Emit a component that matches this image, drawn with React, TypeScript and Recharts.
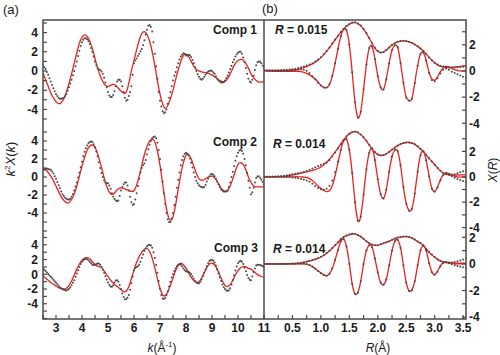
import React from 'react';
import { ComposedChart, Line, XAxis, YAxis } from 'recharts';

const FONT = '"Liberation Sans", Arial, Helvetica, sans-serif';
const RED = '#ee1f1f';
const DOT = '#4a4a4a';
const AX = '#4a4a4a';
const TXT = '#1a1a1a';

// ---------- k-space grids and ticks ----------
// grid of the fitted curves
const K = [2.5,2.6,2.7,2.8,2.9,
  3.0,3.1,3.2,3.3,3.4,3.5,3.6,3.7,3.8,3.9,
  4.0,4.1,4.2,4.3,4.4,4.5,4.6,4.7,4.8,4.9,
  5.0,5.1,5.2,5.3,5.4,5.5,5.6,5.7,5.8,5.9,
  6.0,6.1,6.2,6.3,6.4,6.5,6.6,6.7,6.8,6.9,
  7.0,7.1,7.2,7.3,7.4,7.5,7.6,7.7,7.8,7.9,
  8.0,8.1,8.2,8.3,8.4,8.5,8.6,8.7,8.8,8.9,
  9.0,9.1,9.2,9.3,9.4,9.5,9.6,9.7,9.8,9.9,
  10.0,10.1,10.2,10.3,10.4,10.5,10.6,10.7,10.8,10.9,
  11.0];
// grid of the measured points
const KD = [2.5,2.55,2.6,2.65,2.7,2.75,2.8,2.85,2.9,2.95,
  3.0,3.05,3.1,3.15,3.2,3.25,3.3,3.35,3.4,3.45,3.5,3.55,3.6,3.65,3.7,3.75,3.8,3.85,3.9,3.95,
  4.0,4.05,4.1,4.15,4.2,4.25,4.3,4.35,4.4,4.45,4.5,4.55,4.6,4.65,4.7,4.75,4.8,4.85,4.9,4.95,
  5.0,5.05,5.1,5.15,5.2,5.25,5.3,5.35,5.4,5.45,5.5,5.55,5.6,5.65,5.7,5.75,5.8,5.85,5.9,5.95,
  6.0,6.05,6.1,6.15,6.2,6.25,6.3,6.35,6.4,6.45,6.5,6.55,6.6,6.65,6.7,6.75,6.8,6.85,6.9,6.95,
  7.0,7.05,7.1,7.15,7.2,7.25,7.3,7.35,7.4,7.45,7.5,7.55,7.6,7.65,7.7,7.75,7.8,7.85,7.9,7.95,
  8.0,8.05,8.1,8.15,8.2,8.25,8.3,8.35,8.4,8.45,8.5,8.55,8.6,8.65,8.7,8.75,8.8,8.85,8.9,8.95,
  9.0,9.05,9.1,9.15,9.2,9.25,9.3,9.35,9.4,9.45,9.5,9.55,9.6,9.65,9.7,9.75,9.8,9.85,9.9,9.95,
  10.0,10.05,10.1,10.15,10.2,10.25,10.3,10.35,10.4,10.45,10.5,10.55,10.6,10.65,10.7,10.75,10.8,10.85,10.9,10.95,
  11.0];
const K_TICKS = [2.5,3,3.5,4,4.5,5,5.5,6,6.5,7,7.5,8,8.5,9,9.5,10,10.5,11];

// Comp 1 k-space
const K1_DAT = [0.6,0.4,0.2,-0.1,-0.4,-0.75,-1.1,-1.45,-1.8,-2.1,
  -2.4,-2.6,-2.8,-2.9,-2.9,-2.85,-2.8,-2.6,-2.4,-2.05,-1.7,-1.3,-0.9,-0.45,0.0,0.5,1.0,1.55,2.1,2.6,
  3.0,3.25,3.4,3.4,3.3,3.1,2.8,2.4,2.0,1.5,1.0,0.6,0.3,0.15,0.1,-0.05,-0.3,-0.7,-1.2,-1.7,
  -2.2,-2.55,-2.7,-2.7,-2.5,-2.1,-1.6,-1.1,-0.9,-0.9,-1.1,-1.6,-2.2,-2.8,-3.1,-3.0,-2.6,-2.2,-1.6,-0.4,
  0.8,1.1,1.3,1.55,1.8,2.05,2.3,2.7,3.2,3.8,4.3,4.7,4.8,4.6,4.1,3.0,1.8,0.5,-0.8,-2.2,
  -3.1,-3.7,-4.2,-4.4,-4.3,-4.0,-3.4,-2.8,-2.2,-1.6,-1.0,-0.5,-0.1,0.4,0.8,1.2,1.5,1.7,1.85,1.8,
  1.6,1.6,1.7,1.65,1.45,1.15,0.8,0.4,0.0,-0.35,-0.6,-0.8,-0.9,-0.8,-0.6,-0.4,-0.2,-0.05,0.0,0.05,
  0.0,-0.15,-0.3,-0.55,-0.8,-1.0,-1.1,-1.2,-1.2,-1.15,-1.0,-0.75,-0.5,-0.15,0.2,0.55,0.9,1.2,1.5,1.75,
  1.9,2.0,2.0,1.8,1.4,0.9,0.3,-0.3,-0.8,-1.1,-1.2,-0.9,-0.5,0.1,0.6,0.9,1.0,0.95,0.8,0.55,
  0.3];
const K1_FIT = [-0.2,-0.9,-1.6,-2.3,-2.8,
  -3.2,-3.4,-3.3,-2.9,-2.2,-1.3,-0.3,0.8,1.9,2.9,
  3.5,3.75,3.6,3.1,2.3,1.3,0.3,-0.5,-1.1,-1.5,
  -1.6,-1.5,-1.4,-1.5,-1.8,-2.1,-2.3,-2.2,-1.3,0.0,
  1.1,2.2,3.2,3.9,4.1,3.8,3.1,2.0,0.6,-1.0,
  -2.4,-3.4,-3.9,-3.6,-2.9,-2.0,-0.9,0.1,1.0,1.6,
  1.75,1.5,1.0,0.5,0.15,0.0,-0.1,-0.15,-0.2,-0.3,
  -0.4,-0.6,-0.8,-1.0,-1.1,-1.1,-0.8,-0.3,0.3,0.8,
  1.1,1.2,1.15,0.8,0.3,-0.3,-0.7,-1.0,-1.15,-1.15,
  -1.1];

// Comp 2 k-space
const K2_DAT = [0.8,0.85,0.9,0.92,0.9,0.85,0.8,0.62,0.4,0.1,
  -0.2,-0.55,-0.9,-1.25,-1.6,-1.9,-2.1,-2.3,-2.4,-2.5,-2.5,-2.4,-2.2,-1.9,-1.5,-1.05,-0.6,-0.05,0.5,1.1,
  1.7,2.3,2.8,3.2,3.5,3.75,3.9,3.95,3.9,3.65,3.3,2.85,2.3,1.65,1.0,0.45,0.0,-0.35,-0.6,-0.7,
  -0.7,-0.95,-1.3,-1.8,-2.2,-2.45,-2.6,-2.7,-2.6,-2.1,-1.5,-1.1,-0.8,-0.6,-0.6,-0.95,-1.5,-2.2,-2.8,-3.1,
  -3.0,-2.5,-1.8,-1.0,-0.2,0.5,1.0,1.3,1.5,1.9,2.5,3.1,3.6,4.0,4.3,4.45,4.5,4.3,3.8,3.0,
  2.0,0.8,-0.5,-1.8,-3.0,-4.0,-4.7,-5.0,-5.0,-4.6,-4.0,-3.1,-2.2,-1.2,-0.3,0.5,1.3,1.9,2.3,2.6,
  2.7,2.6,2.4,2.05,1.6,1.05,0.5,0.0,-0.4,-0.7,-0.9,-1.05,-1.1,-1.15,-1.1,-0.85,-0.5,-0.2,0.1,0.3,
  0.35,0.25,0.1,-0.2,-0.5,-0.8,-1.1,-1.35,-1.5,-1.6,-1.6,-1.6,-1.5,-1.1,-0.6,0.0,0.6,1.2,1.8,2.3,
  2.7,2.95,3.0,2.9,2.6,2.0,1.3,0.45,-0.4,-1.2,-1.9,-1.7,-1.2,-0.6,-0.1,0.05,0.1,-0.1,-0.3,-0.55,
  -0.8];
const K2_FIT = [1.0,0.8,0.5,0.1,-0.4,
  -1.0,-1.6,-2.2,-2.6,-2.85,-2.85,-2.5,-1.9,-1.0,0.1,
  1.2,2.2,3.0,3.45,3.55,3.3,2.6,1.6,0.5,-0.6,
  -1.4,-1.85,-1.9,-1.6,-1.3,-1.2,-1.25,-1.4,-1.5,-1.6,
  -1.5,-0.9,0.1,1.3,2.5,3.4,4.0,4.2,3.9,2.9,
  1.3,-0.7,-2.7,-4.2,-4.8,-4.4,-3.1,-1.4,0.3,1.6,
  2.4,2.5,2.0,1.2,0.4,-0.2,-0.35,-0.3,-0.1,0.05,
  0.1,-0.1,-0.5,-1.0,-1.4,-1.6,-1.5,-1.0,-0.2,0.7,
  1.4,1.6,1.4,0.8,0.0,-0.6,-1.0,-1.1,-1.1,-1.1,
  -1.1];

// Comp 3 k-space
const K3_DAT = [0.75,0.6,0.45,0.25,0.05,-0.15,-0.35,-0.55,-0.75,-0.95,
  -1.15,-1.35,-1.55,-1.75,-1.9,-2.0,-2.1,-2.15,-2.2,-2.1,-1.95,-1.75,-1.5,-1.15,-0.8,-0.35,0.1,0.55,1.0,1.4,
  1.7,1.9,2.05,2.1,2.05,1.9,1.7,1.5,1.3,1.25,1.3,1.4,1.45,1.45,1.3,1.0,0.6,0.2,-0.25,-0.7,
  -1.1,-1.45,-1.65,-1.7,-1.5,-1.1,-0.85,-0.8,-1.0,-1.45,-2.0,-2.6,-3.1,-3.4,-3.4,-3.2,-2.8,-2.1,-1.2,-0.3,
  0.5,0.85,1.0,1.1,1.3,1.7,2.2,2.7,3.2,3.55,3.8,3.95,4.0,3.9,3.6,3.0,2.2,1.25,0.2,-0.9,
  -2.0,-2.8,-3.3,-3.35,-3.2,-2.8,-2.3,-1.65,-1.0,-0.45,0.0,0.45,0.8,1.1,1.3,1.35,1.3,1.05,0.8,0.55,
  0.4,0.35,0.35,0.2,0.0,-0.3,-0.6,-0.9,-1.1,-1.2,-1.2,-1.0,-0.7,-0.25,0.2,0.65,1.1,1.5,1.8,1.95,
  1.95,1.85,1.6,1.2,0.7,0.15,-0.4,-0.9,-1.4,-1.75,-2.0,-2.2,-2.25,-2.15,-1.9,-1.4,-0.8,-0.15,0.5,1.05,
  1.5,1.75,1.85,1.7,1.4,0.9,0.4,-0.1,-0.5,-0.75,-0.8,-0.3,0.3,0.8,1.2,1.3,1.3,1.25,1.2,1.1,
  1.0];
const K3_FIT = [-0.2,-0.5,-0.8,-1.1,-1.35,
  -1.6,-1.8,-1.95,-2.0,-1.9,-1.5,-0.9,-0.1,0.7,1.4,
  1.9,2.2,2.25,2.1,1.7,1.3,1.1,1.0,0.7,0.2,
  -0.3,-0.8,-1.2,-1.5,-1.8,-2.1,-2.35,-2.3,-1.7,-0.6,
  0.6,1.6,2.4,3.0,3.4,3.5,3.1,2.2,0.9,-0.6,
  -1.9,-2.8,-2.9,-2.4,-1.5,-0.5,0.5,1.2,1.5,1.3,
  0.8,0.2,-0.4,-0.9,-1.1,-1.0,-0.5,0.2,0.9,1.4,
  1.5,1.3,0.7,-0.1,-0.9,-1.5,-1.65,-1.4,-0.8,-0.1,
  0.5,0.9,1.05,1.0,0.8,0.7,0.4,0.1,-0.15,-0.3,
  -0.4];

// ---------- R-space grid and ticks ----------
const R = [0,0.05,0.1,0.15,0.2,0.25,0.3,0.35,0.4,0.45,
  0.5,0.55,0.6,0.65,0.7,0.75,0.8,0.85,0.9,0.95,
  1.0,1.05,1.1,1.15,1.2,1.25,1.3,1.35,1.4,1.45,
  1.5,1.55,1.6,1.65,1.7,1.75,1.8,1.85,1.9,1.95,
  2.0,2.05,2.1,2.15,2.2,2.25,2.3,2.35,2.4,2.45,
  2.5,2.55,2.6,2.65,2.7,2.75,2.8,2.85,2.9,2.95,
  3.0,3.05,3.1,3.15,3.2,3.25,3.3,3.35,3.4,3.45,3.5,3.55];
const R_TICKS = [0,0.25,0.5,0.75,1,1.25,1.5,1.75,2,2.25,2.5,2.75,3,3.25,3.5];

// Comp 1 R-space
const MAG1_FIT = [0.05,0.05,0.05,0.05,0.04,0.04,0.04,0.04,0.05,0.06,
  0.08,0.10,0.13,0.18,0.25,0.33,0.42,0.53,0.67,0.83,
  1.02,1.25,1.50,1.78,2.08,2.38,2.68,2.96,3.20,3.42,
  3.58,3.68,3.70,3.62,3.45,3.20,2.88,2.50,2.10,1.75,
  1.50,1.40,1.45,1.60,1.80,1.98,2.12,2.22,2.28,2.30,
  2.28,2.22,2.15,2.02,1.88,1.72,1.53,1.30,1.06,0.83,
  0.62,0.47,0.36,0.29,0.26,0.26,0.28,0.30,0.33,0.35,0.38,0.40];
const MAG1_DAT = [0.05,0.04,0.03,0.03,0.04,0.05,0.06,0.08,0.10,0.12,
  0.14,0.17,0.22,0.28,0.35,0.42,0.50,0.60,0.72,0.87,
  1.05,1.27,1.52,1.80,2.10,2.40,2.70,2.98,3.22,3.44,
  3.60,3.70,3.72,3.64,3.47,3.22,2.90,2.52,2.12,1.77,
  1.52,1.42,1.46,1.60,1.80,1.98,2.13,2.23,2.30,2.32,
  2.30,2.24,2.15,2.03,1.89,1.72,1.52,1.28,1.04,0.82,
  0.63,0.50,0.40,0.34,0.30,0.28,0.27,0.27,0.28,0.30,0.33,0.36];
const IM1_FIT = [0.0,0.0,-0.01,-0.01,-0.02,-0.02,-0.02,-0.02,-0.02,-0.02,
  -0.02,-0.02,-0.03,-0.05,-0.1,-0.18,-0.3,-0.45,-0.62,-0.85,
  -1.1,-1.25,-1.28,-1.05,-0.4,0.6,1.7,2.65,3.2,3.1,
  2.0,-0.1,-2.4,-3.55,-3.1,-1.4,0.5,1.75,1.85,0.9,
  -0.4,-1.25,-1.4,-0.6,0.6,1.6,1.95,1.8,0.6,-0.9,
  -2.0,-2.25,-2.1,-0.9,0.4,1.3,1.4,0.8,-0.1,-0.6,
  -0.7,-0.45,-0.05,0.25,0.35,0.3,0.2,0.1,0.05,0.0,0.0,0.0];
const IM1_DAT = [0.02,0.02,0.01,0.0,0.0,0.0,0.01,0.02,0.03,0.04,
  0.05,0.07,0.1,0.12,0.1,0.02,-0.15,-0.4,-0.65,-0.9,
  -1.12,-1.26,-1.27,-1.02,-0.38,0.6,1.7,2.65,3.22,3.12,
  2.02,-0.1,-2.4,-3.57,-3.12,-1.4,0.5,1.76,1.87,0.92,
  -0.4,-1.25,-1.42,-0.62,0.6,1.6,1.96,1.82,0.62,-0.9,
  -2.02,-2.28,-2.12,-0.92,0.4,1.3,1.42,0.8,-0.15,-0.7,
  -0.78,-0.55,-0.2,0.1,0.18,0.1,-0.05,-0.15,-0.25,-0.35,-0.45,-0.55];

// Comp 2 R-space
const MAG2_FIT = [0.0,0.0,0.0,0.0,0.0,0.01,0.02,0.04,0.07,0.1,
  0.14,0.18,0.23,0.28,0.33,0.38,0.44,0.5,0.57,0.65,
  0.78,0.95,1.15,1.38,1.65,1.95,2.25,2.58,2.9,3.18,
  3.38,3.52,3.55,3.48,3.32,3.1,2.82,2.5,2.2,1.93,
  1.75,1.68,1.7,1.8,1.95,2.12,2.3,2.45,2.57,2.65,
  2.7,2.7,2.65,2.55,2.38,2.18,2.0,1.72,1.45,1.2,
  0.95,0.7,0.47,0.3,0.2,0.15,0.13,0.13,0.14,0.15,0.15,0.15];
const MAG2_DAT = [0.0,0.0,0.0,0.01,0.02,0.04,0.06,0.09,0.12,0.15,
  0.19,0.23,0.27,0.32,0.38,0.45,0.55,0.65,0.75,0.85,
  0.95,1.02,1.1,1.3,1.6,1.92,2.24,2.57,2.9,3.18,
  3.4,3.53,3.57,3.5,3.34,3.12,2.84,2.52,2.22,1.95,
  1.77,1.7,1.72,1.82,1.97,2.14,2.31,2.46,2.58,2.66,
  2.71,2.71,2.66,2.56,2.4,2.2,2.0,1.74,1.46,1.2,
  0.95,0.7,0.48,0.3,0.2,0.16,0.16,0.2,0.27,0.35,0.43,0.5];
const IM2_FIT = [0.0,0.0,0.0,0.0,0.0,0.0,0.0,0.0,0.0,0.0,
  0.0,0.0,0.0,-0.01,-0.02,-0.05,-0.15,-0.3,-0.5,-0.72,
  -0.92,-1.08,-1.17,-1.1,-0.7,0.1,1.1,2.1,2.85,2.95,
  2.1,0.3,-2.0,-3.45,-3.1,-1.4,0.6,1.9,2.2,1.3,
  -0.2,-1.35,-1.7,-1.0,0.4,1.6,2.1,2.0,0.9,-0.8,
  -2.1,-2.65,-2.5,-1.3,0.4,1.7,2.0,1.3,0.1,-0.9,
  -1.15,-0.8,-0.25,0.15,0.3,0.25,0.15,0.05,0.0,-0.02,-0.03,-0.05];
const IM2_DAT = [0.0,0.0,0.0,0.0,0.0,0.0,0.0,-0.01,-0.01,-0.02,
  -0.05,-0.08,-0.12,-0.17,-0.22,-0.3,-0.4,-0.55,-0.72,-0.88,
  -0.98,-1.02,-0.95,-0.7,-0.3,0.35,1.2,2.1,2.85,2.97,
  2.12,0.3,-2.0,-3.47,-3.12,-1.4,0.6,1.9,2.22,1.32,
  -0.2,-1.35,-1.72,-1.02,0.4,1.6,2.12,2.02,0.9,-0.8,
  -2.12,-2.67,-2.52,-1.32,0.4,1.7,2.02,1.3,0.05,-0.95,
  -1.18,-0.85,-0.3,0.12,0.3,0.2,0.05,-0.08,-0.18,-0.26,-0.33,-0.4];

// Comp 3 R-space
const MAG3_FIT = [0.0,0.0,0.0,0.0,0.0,0.0,0.01,0.01,0.01,0.02,
  0.02,0.03,0.05,0.08,0.12,0.17,0.22,0.28,0.34,0.42,
  0.52,0.65,0.8,0.98,1.18,1.4,1.62,1.86,2.02,2.12,
  2.2,2.25,2.24,2.17,2.05,1.88,1.7,1.55,1.45,1.4,
  1.4,1.46,1.55,1.62,1.7,1.8,1.9,1.97,2.02,2.05,
  2.05,2.02,1.94,1.82,1.68,1.55,1.38,1.12,0.88,0.68,
  0.5,0.34,0.22,0.14,0.1,0.08,0.07,0.06,0.05,0.05,0.05,0.05];
const MAG3_DAT = [0.0,0.0,0.0,0.0,0.0,0.0,0.01,0.01,0.02,0.02,
  0.03,0.04,0.06,0.09,0.13,0.18,0.23,0.29,0.36,0.44,
  0.54,0.66,0.81,0.99,1.19,1.41,1.63,1.87,2.03,2.13,
  2.21,2.26,2.25,2.18,2.06,1.89,1.71,1.56,1.46,1.41,
  1.41,1.47,1.56,1.63,1.71,1.81,1.91,1.98,2.03,2.06,
  2.06,2.03,1.95,1.83,1.69,1.56,1.39,1.13,0.9,0.7,
  0.52,0.36,0.24,0.16,0.12,0.1,0.1,0.14,0.2,0.26,0.33,0.4];
const IM3_FIT = [0.0,0.0,0.0,0.0,0.0,0.0,0.0,0.0,0.0,0.0,
  0.0,0.0,0.0,0.0,0.0,-0.03,-0.1,-0.2,-0.35,-0.52,
  -0.68,-0.82,-0.88,-0.75,-0.35,0.3,1.05,1.7,1.85,1.3,
  0.0,-1.5,-2.25,-2.15,-1.3,0.0,1.0,1.4,1.25,0.4,
  -0.65,-1.4,-1.55,-1.15,-0.1,1.0,1.7,1.8,1.2,-0.1,
  -1.4,-2.02,-1.95,-1.3,-0.1,1.0,1.38,1.0,0.1,-0.6,
  -0.8,-0.55,-0.15,0.1,0.15,0.1,0.05,0.0,0.0,0.0,0.0,0.0];
const IM3_DAT = [0.0,0.0,0.0,0.0,0.0,0.0,0.0,0.0,0.0,0.01,
  0.01,0.02,0.03,0.04,0.03,0.0,-0.08,-0.2,-0.36,-0.54,
  -0.7,-0.83,-0.88,-0.74,-0.33,0.3,1.05,1.7,1.86,1.31,
  0.0,-1.5,-2.27,-2.17,-1.3,0.0,1.0,1.41,1.26,0.4,
  -0.65,-1.4,-1.57,-1.16,-0.1,1.0,1.71,1.81,1.2,-0.1,
  -1.42,-2.04,-1.97,-1.3,-0.1,1.0,1.39,1.0,0.05,-0.62,
  -0.82,-0.58,-0.2,0.05,0.12,0.05,-0.03,-0.1,-0.15,-0.2,-0.25,-0.3];

// ---------- layout ----------
const PAD = 12;
const FRAME = { left: 43, right: 466, top: 20, bottom: 319, mid: 264 };

const pts = (xs: number[], ys: number[]) => xs.map((x, i) => ({ x, y: ys[i] }));

const yFmt = (v: number) => (Math.abs(v % 2) < 1e-6 && v >= -4 && v <= 4 ? String(v) : '');
const kFmt = (v: number) => (Math.abs(v - Math.round(v)) < 1e-6 && v >= 3 ? String(Math.round(v)) : '');
const rFmt = (v: number) => (v > 0 && Math.abs(v * 2 - Math.round(v * 2)) < 1e-6 ? v.toFixed(1) : '');

const tickStyle = { fill: TXT, fontSize: 12, fontWeight: 'bold' as const, fontFamily: FONT };

interface SubProps {
  side: 'left' | 'right';
  plotTop: number;
  plotBottom: number;
  yDomain: [number, number];
  yTicks: number[];
  showX: boolean;
  dat: number[][];
  fit: number[][];
}

function Sub({ side, plotTop, plotBottom, yDomain, yTicks, showX, dat, fit }: SubProps) {
  const isLeft = side === 'left';
  const fitXs = isLeft ? K : R;
  const datXs = isLeft ? KD : R;
  const bottomExtra = showX ? 36 : PAD;
  const height = plotBottom - plotTop + PAD + bottomExtra;
  const margin = isLeft
    ? { top: PAD, bottom: showX ? 6 : PAD, left: 0, right: 500 - FRAME.mid }
    : { top: PAD, bottom: showX ? 6 : PAD, left: FRAME.mid, right: 0 };
  const fitLines = fit.map((ys, i) => (
    <Line
      key={'f' + i}
      data={pts(fitXs, ys)}
      dataKey="y"
      type="natural"
      stroke={RED}
      strokeWidth={1.3}
      dot={false}
      activeDot={false}
      isAnimationActive={false}
      legendType="none"
    />
  ));
  const dotLines = dat.map((ys, i) => (
    <Line
      key={'d' + i}
      data={pts(datXs, ys)}
      dataKey="y"
      stroke="none"
      dot={{ r: 1.0, fill: DOT, stroke: 'none', strokeWidth: 0 }}
      activeDot={false}
      isAnimationActive={false}
      legendType="none"
    />
  ));
  return (
    <div style={{ position: 'absolute', left: 0, top: plotTop - PAD, width: 500, height }}>
      <ComposedChart width={500} height={height} margin={margin}>
        <XAxis
          type="number"
          dataKey="x"
          domain={isLeft ? [2.5, 11] : [0, 3.55]}
          ticks={isLeft ? K_TICKS : R_TICKS}
          interval={0}
          allowDataOverflow
          hide={!showX}
          height={30}
          axisLine={false}
          tickSize={-4}
          tickMargin={8}
          tickLine={{ stroke: AX, strokeWidth: 1.2 }}
          tick={tickStyle}
          tickFormatter={isLeft ? kFmt : rFmt}
        />
        <YAxis
          type="number"
          orientation={isLeft ? 'left' : 'right'}
          domain={yDomain}
          ticks={yTicks}
          interval={0}
          allowDataOverflow
          width={isLeft ? 43 : 34}
          axisLine={false}
          tickSize={-4}
          tickMargin={isLeft ? 9 : 7}
          tickLine={{ stroke: AX, strokeWidth: 1.2 }}
          tick={tickStyle}
          tickFormatter={yFmt}
        />
        {isLeft ? dotLines : fitLines}
        {isLeft ? fitLines : dotLines}
      </ComposedChart>
    </div>
  );
}

const range = (a: number, b: number) => {
  const out: number[] = [];
  for (let v = a; v <= b; v++) out.push(v);
  return out;
};

export default function App() {
  return (
    <div style={{ position: 'absolute', left: 0, top: 0, width: 500, height: 355, background: '#fff', overflow: 'hidden', fontFamily: FONT }}>
      <Sub side="left" plotTop={20} plotBottom={126} yDomain={[-5.73, 5.31]} yTicks={range(-5, 5)} showX={false} dat={[K1_DAT]} fit={[K1_FIT]} />
      <Sub side="left" plotTop={126} plotBottom={234} yDomain={[-6.33, 5.67]} yTicks={range(-6, 5)} showX={false} dat={[K2_DAT]} fit={[K2_FIT]} />
      <Sub side="left" plotTop={234} plotBottom={319} yDomain={[-6.07, 5.47]} yTicks={range(-6, 5)} showX={true} dat={[K3_DAT]} fit={[K3_FIT]} />
      <Sub side="right" plotTop={20} plotBottom={126} yDomain={[-4.21, 3.9]} yTicks={range(-4, 3)} showX={false} dat={[MAG1_DAT, IM1_DAT]} fit={[MAG1_FIT, IM1_FIT]} />
      <Sub side="right" plotTop={126} plotBottom={232} yDomain={[-4.35, 4.0]} yTicks={range(-4, 3)} showX={false} dat={[MAG2_DAT, IM2_DAT]} fit={[MAG2_FIT, IM2_FIT]} />
      <Sub side="right" plotTop={232} plotBottom={319} yDomain={[-4.14, 2.4]} yTicks={range(-4, 2)} showX={true} dat={[MAG3_DAT, IM3_DAT]} fit={[MAG3_FIT, IM3_FIT]} />
      <svg width={500} height={355} style={{ position: 'absolute', left: 0, top: 0, pointerEvents: 'none' }} fontFamily={FONT}>
        <rect x={FRAME.left} y={FRAME.top} width={FRAME.right - FRAME.left} height={FRAME.bottom - FRAME.top} fill="none" stroke={AX} strokeWidth={1.5} />
        <line x1={FRAME.mid} y1={FRAME.top} x2={FRAME.mid} y2={FRAME.bottom} stroke={AX} strokeWidth={1.5} />
        <text x={3} y={14} fontSize={13} fill={TXT}>(a)</text>
        <text x={262} y={13} fontSize={13} fill={TXT}>(b)</text>
        <text x={257} y={34} fontSize={12} fontWeight="bold" textAnchor="end" fill={TXT}>Comp 1</text>
        <text x={257} y={146} fontSize={12} fontWeight="bold" textAnchor="end" fill={TXT}>Comp 2</text>
        <text x={258} y={252} fontSize={12} fontWeight="bold" textAnchor="end" fill={TXT}>Comp 3</text>
        <text x={275} y={34} fontSize={12} fontWeight="bold" fill={TXT}><tspan fontStyle="italic">R</tspan> = 0.015</text>
        <text x={273} y={148} fontSize={12} fontWeight="bold" fill={TXT}><tspan fontStyle="italic">R</tspan> = 0.014</text>
        <text x={273} y={253} fontSize={12} fontWeight="bold" fill={TXT}><tspan fontStyle="italic">R</tspan> = 0.014</text>
        <text transform="translate(15,159) rotate(-90)" fontSize={13} textAnchor="middle" fill={TXT}>
          <tspan fontStyle="italic">k</tspan><tspan fontSize={8} dy={-5}>2</tspan><tspan dy={5} fontStyle="italic">X</tspan>(<tspan fontStyle="italic">k</tspan>)
        </text>
        <text transform="translate(497,170) rotate(-90)" fontSize={12} textAnchor="middle" fill={TXT}>
          <tspan fontStyle="italic">X</tspan>(<tspan fontStyle="italic">R</tspan>)
        </text>
        <text x={162} y={352} fontSize={12} textAnchor="middle" fill={TXT}>
          <tspan fontStyle="italic">k</tspan>(Å<tspan fontSize={8} dy={-5}>-1</tspan><tspan dy={5}>)</tspan>
        </text>
        <text x={378} y={352} fontSize={12} textAnchor="middle" fill={TXT}>
          <tspan fontStyle="italic">R</tspan>(Å)
        </text>
      </svg>
    </div>
  );
}
